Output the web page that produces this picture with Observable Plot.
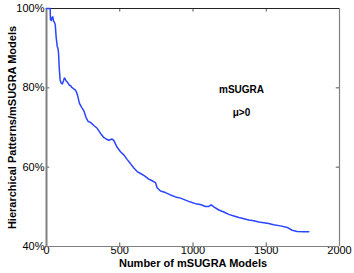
<!DOCTYPE html>
<html><head><meta charset="utf-8">
<script src="https://cdn.jsdelivr.net/npm/d3@7"></script>
<script src="https://cdn.jsdelivr.net/npm/@observablehq/plot@0.6"></script>
<style>body{margin:0;background:#fff}</style>
</head><body><div id="chart"></div>
<script>
const nModels = [0,25,27,33,36,43,48,55,60,66,70,73,78,82,87,93,100,108,116,122,127,133,139,145,150,157,164,172,180,188,196,205,214,225,240,255,270,285,300,323,346,369,391,407,425,448,460,482,505,528,551,573,596,619,642,669,698,715,744,755,778,812,846,881,915,949,983,1017,1051,1085,1108,1124,1142,1176,1210,1244,1279,1313,1347,1381,1415,1449,1483,1517,1550,1597,1643,1677,1711,1757,1790];
const pctHier = [100,100,97.2,97.0,97.6,97.9,96.8,96.5,95.8,92.7,91.5,90.5,90.0,88.8,85.0,82.0,81.2,81.0,81.8,82.5,82.3,81.8,81.6,81.3,81.0,80.6,80.6,80.1,79.9,79.7,79.5,78.9,77.8,76.1,75.1,74.2,72.5,71.5,71.3,70.5,69.8,68.5,67.5,67.1,66.8,67.1,66.7,65.0,63.9,63.1,61.9,60.9,59.8,58.9,58.4,57.8,57.0,56.7,56.1,54.8,54.0,53.6,53.0,52.5,52.2,51.7,51.2,50.8,50.6,50.1,50.1,50.5,50.0,49.2,48.7,48.1,47.7,47.3,47.0,46.7,46.5,46.2,46.0,45.8,45.5,45.2,44.8,44.1,43.8,43.7,43.7];
const xTicks = [0,500,1000,1500,2000];
const yTicks = [40,60,80,100];
const xLabel = "Number of mSUGRA Models";
const yLabel = "Hierarchical Patterns/mSUGRA Models";
const annotations = [{x:1331, y:79.5, text:"mSUGRA"},{x:1331, y:73.7, text:"μ>0"}];

const data = nModels.map((n,i)=>({n, p: pctHier[i]}));
const font = "Liberation Sans, Arial, Helvetica, sans-serif";

const chart = Plot.plot({
  width: 354, height: 273,
  marginLeft: 46, marginRight: 15, marginTop: 8, marginBottom: 27,
  style: {fontFamily: font, fontSize: "11px", color: "#000", background: "#fff"},
  x: {domain: [0,2000]},
  y: {domain: [40,100]},
  marks: [
    Plot.axisX({ticks: xTicks, tickSize: 0, tickPadding: 0, label: null, fontSize: 11, tickFormat: d => String(d)}),
    Plot.axisY({ticks: yTicks, tickSize: 0, tickPadding: 2, label: null, fontSize: 11, tickFormat: d => d + "%"}),
    // inward ticks
    Plot.ruleX(xTicks, {x: d => d, y1: 40, y2: 40.9, stroke: "#555"}),
    Plot.ruleX(xTicks, {x: d => d, y1: 100, y2: 99.1, stroke: "#555"}),
    Plot.ruleY(yTicks, {y: d => d, x1: 0, x2: 22, stroke: "#555"}),
    Plot.ruleY(yTicks, {y: d => d, x1: 2000, x2: 1978, stroke: "#555"}),
    // box
    Plot.ruleY([40], {stroke: "#808080", strokeWidth: 1.2}),
    Plot.ruleX([2000], {stroke: "#808080", strokeWidth: 1.2}),
    Plot.ruleY([100], {stroke: "#222", strokeWidth: 1}),
    Plot.ruleX([0], {stroke: "#808080", strokeWidth: 2}),
    Plot.line(data, {x: "n", y: "p", stroke: "#2a45ff", strokeWidth: 1.5}),
    Plot.text(annotations, {x: "x", y: "y", text: "text", fontWeight: "bold", fontSize: 10, fill: "#000"}),
    Plot.text([xLabel], {frameAnchor: "bottom", textAnchor: "middle", dy: 20.5, fontWeight: "bold", fontSize: 11, fill: "#000"}),
    Plot.text([yLabel], {frameAnchor: "left", textAnchor: "middle", dx: -34, rotate: -90, fontWeight: "bold", fontSize: 11, fill: "#000"})
  ]
});
document.getElementById("chart").appendChild(chart);
</script>
</body></html>
